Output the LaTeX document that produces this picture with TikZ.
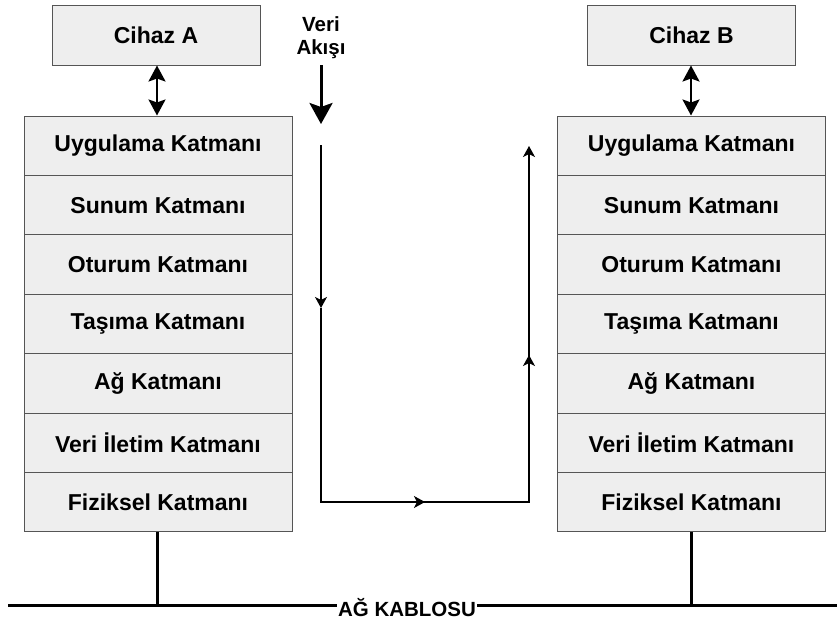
\documentclass[tikz,border=0pt]{standalone}
\usepackage{fontspec}
\setmainfont{Liberation Sans}
\usetikzlibrary{arrows.meta}
\definecolor{boxfill}{HTML}{EEEEEE}
\definecolor{boxline}{HTML}{555555}
\tikzset{
  layerbox/.style={draw=boxline, fill=boxfill, line width=1pt, minimum width=268pt, minimum height=59.4pt, inner sep=0pt, font=\fontsize{23}{26}\selectfont\bfseries},
  devbox/.style={draw=boxline, fill=boxfill, line width=1pt, minimum width=208pt, minimum height=59pt, inner sep=0pt, font=\fontsize{23}{26}\selectfont\bfseries},
  dbl/.style={line width=2.5pt, {Stealth[length=16pt,width=17pt,inset=3pt]}-{Stealth[length=16pt,width=17pt,inset=3pt]}},
  bigarrow/.style={line width=3pt, -{Stealth[length=21pt,width=23pt,inset=4pt]}},
  flow/.style={line width=1.2pt},
  flowarrow/.style={line width=1.2pt, -{Stealth[length=11pt,width=12pt,inset=3pt]}},
  cable/.style={line width=3pt},
}
\begin{document}
\begin{tikzpicture}[x=1pt,y=-1pt]
\useasboundingbox (0,0) rectangle (837,626);
% devices
\node[devbox] (devA) at (156,35.5) {Cihaz A};
\node[devbox] (devB) at (691.5,35.5) {Cihaz B};
% left stack
\foreach \n/\t [count=\i from 0] in {a1/Uygulama Katmanı, a2/Sunum Katmanı, a3/Oturum Katmanı, a4/Taşıma Katmanı, a5/Ağ Katmanı, a6/Veri İletim Katmanı, a7/Fiziksel Katmanı}{
  \node[layerbox] (L\n) at (158,145.7+59.43*\i) {\t};
}
% right stack
\foreach \n/\t [count=\i from 0] in {a1/Uygulama Katmanı, a2/Sunum Katmanı, a3/Oturum Katmanı, a4/Taşıma Katmanı, a5/Ağ Katmanı, a6/Veri İletim Katmanı, a7/Fiziksel Katmanı}{
  \node[layerbox] (R\n) at (691.5,145.7+59.43*\i) {\t};
}
% device links
\draw[dbl] (devA.south -| 157,0) -- (La1.north -| 157,0);
\draw[dbl] (devB.south -| 691,0) -- (Ra1.north -| 691,0);
% data flow label
\node[font=\fontsize{20.5}{23}\selectfont\bfseries, align=center] (flowlbl) at (321,38) {Veri\\Akışı};
\coordinate (bigS) at (321,65);
\coordinate (bigE) at (321,124);
\draw[bigarrow] (bigS) -- (bigE);
% flow path
\coordinate (f1) at (321,145);
\coordinate (f2) at (321,308);
\coordinate (f3) at (321,502);
\coordinate (f4) at (425,502);
\coordinate (f5) at (529,502);
\coordinate (f6) at (529,355);
\coordinate (f7) at (529,146);
\draw[flowarrow] (f1) -- (f2);
\draw[flow] (f2) -- (f3) -- (f4);
\draw[flowarrow] (f3) -- (f4);
\draw[flow] (f4) -- (f5) -- (f6);
\draw[flowarrow] (f5) -- (f6);
\draw[flowarrow] (f6) -- (f7);
% cable
\coordinate (cL) at (8,605);
\coordinate (cR) at (837,605);
\coordinate (tA) at (157,605);
\coordinate (tB) at (691,605);
\draw[cable] (cL) -- (cR);
\draw[cable] (La7.south -| tA) -- (tA);
\draw[cable] (Ra7.south -| tB) -- (tB);
\node[fill=white, inner sep=1pt, font=\fontsize{20.5}{22}\selectfont\bfseries] (cablelbl) at (407,608) {AĞ KABLOSU};
\end{tikzpicture}
\end{document}
